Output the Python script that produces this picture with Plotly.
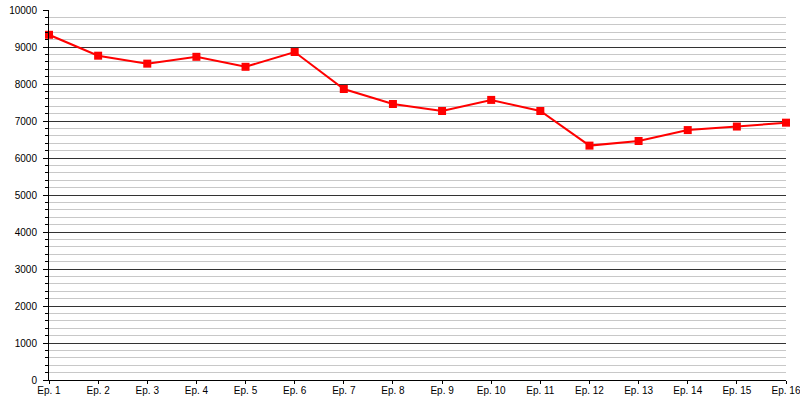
import plotly.graph_objects as go

episodes = ["Ep. 1", "Ep. 2", "Ep. 3", "Ep. 4", "Ep. 5", "Ep. 6", "Ep. 7", "Ep. 8",
            "Ep. 9", "Ep. 10", "Ep. 11", "Ep. 12", "Ep. 13", "Ep. 14", "Ep. 15", "Ep. 16"]
values = [9330, 8765, 8550, 8735, 8465, 8865, 7865, 7460,
          7270, 7570, 7270, 6335, 6460, 6755, 6850, 6955]
y_ticks = [0, 1000, 2000, 3000, 4000, 5000, 6000, 7000, 8000, 9000, 10000]
y_labels = [str(v) for v in y_ticks]

xs = list(range(1, len(episodes) + 1))

fig = go.Figure()
fig.add_trace(go.Scatter(
    x=xs, y=values, mode="lines+markers",
    line=dict(color="#ff0000", width=2),
    marker=dict(symbol="square", size=8, color="#ff0000"),
    cliponaxis=False, showlegend=False,
))

fig.update_layout(
    width=800, height=400,
    margin=dict(l=49, r=14, t=10, b=20),
    paper_bgcolor="white", plot_bgcolor="white",
    font=dict(family="Liberation Sans, Arial, sans-serif", size=10, color="#000"),
    xaxis=dict(
        range=[1, 16], tickvals=xs, ticktext=episodes,
        automargin=False, ticklabeloverflow="allow",
        showgrid=False, zeroline=False,
        showline=True, linecolor="#000", linewidth=1,
        ticks="outside", ticklen=3, tickcolor="#000",
        ticklabelstandoff=-2,
    ),
    yaxis=dict(
        range=[0, 10000], tickvals=y_ticks, ticktext=y_labels,
        automargin=False, ticklabeloverflow="allow",
        showgrid=True, gridcolor="#333333", gridwidth=1,
        zeroline=False,
        showline=True, linecolor="#000", linewidth=1,
        ticks="outside", ticklen=5, tickcolor="#000",
        ticklabelstandoff=4,
        minor=dict(dtick=200, showgrid=True, gridcolor="#c8c8c8", gridwidth=1,
                   ticks="outside", ticklen=3, tickcolor="#000"),
    ),
)

fig.write_html(
    "out.html",
    config={"displayModeBar": False},
    post_script="document.body.style.margin='0';document.body.style.overflow='hidden';",
)
